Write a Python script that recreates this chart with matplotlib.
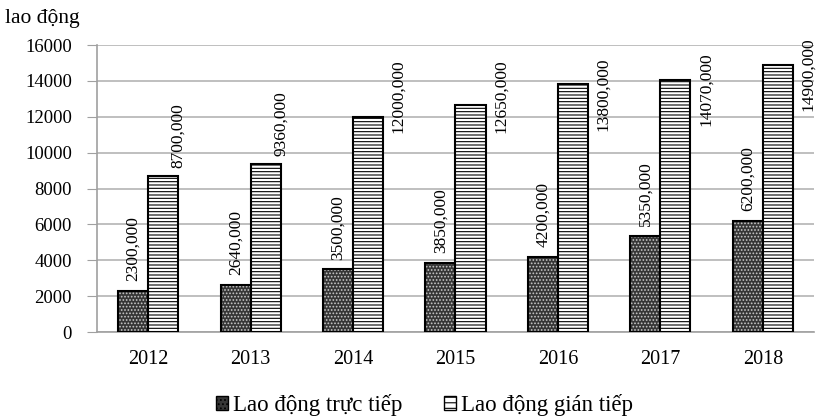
import numpy as np
import matplotlib
matplotlib.use('Agg')
import matplotlib.pyplot as plt
import matplotlib.patches as mpatches

plt.rcParams['font.family'] = ['Liberation Serif', 'DejaVu Serif']
plt.rcParams['hatch.linewidth'] = 0.8

years = ['2012', '2013', '2014', '2015', '2016', '2017', '2018']
truc_tiep = np.array([2300, 2640, 3500, 3850, 4200, 5350, 6200])
gian_tiep = np.array([8700, 9360, 12000, 12650, 13800, 14070, 14900])

x = np.arange(len(years))
w = 0.293
label_span = 4200  # approx. height of a rotated label in data units

fig = plt.figure(figsize=(8.16, 4.18), dpi=100)
ax = fig.add_axes([0.1189, 0.2057, 0.8786, 0.6866])

# direct labour: dark fill with light dots, black border drawn on top
ax.bar(x - w / 2, truc_tiep, w, color='#363636', edgecolor='#c8c8c8',
       hatch='.....', linewidth=0, zorder=2)
ax.bar(x - w / 2, truc_tiep, w, fill=False, edgecolor='black',
       linewidth=1.5, zorder=3)
# indirect labour: white with horizontal lines
ax.bar(x + w / 2, gian_tiep, w, color='white', edgecolor='black',
       hatch='-----', linewidth=1.5, zorder=3)

for xi, v in zip(x, truc_tiep):
    ax.annotate(f'{v},000', (xi - w / 2, v), xytext=(0, 7), textcoords='offset points',
                rotation=90, ha='center', va='bottom', fontsize=12.5)

for xi, v in zip(x, gian_tiep):
    if v + label_span < 16000:
        ax.annotate(f'{v},000', (xi + w, v), xytext=(0, 6), textcoords='offset points',
                    rotation=90, ha='center', va='bottom', fontsize=12.5)
    else:
        top = max(15200, v + 1500)
        ax.annotate(f'{v},000', (xi + w, top), xytext=(11, 0), textcoords='offset points',
                    rotation=90, ha='center', va='top', fontsize=12.5,
                    annotation_clip=False)

ax.set_xlim(-0.5, len(years) - 0.5)
ax.set_ylim(0, 16000)
ax.set_yticks(np.arange(0, 16001, 2000))
ax.set_xticks(x)
ax.set_xticklabels(years)
ax.tick_params(axis='y', labelsize=13.5, length=7, color='#a0a0a0', pad=11)
ax.tick_params(axis='x', labelsize=14.5, length=0, pad=13)
ax.yaxis.grid(True, color='#b4b4b4', linewidth=1.2)
ax.set_axisbelow(True)
for s in ['top', 'right']:
    ax.spines[s].set_visible(False)
for s in ['left', 'bottom']:
    ax.spines[s].set_color('#a0a0a0')
    ax.spines[s].set_linewidth(1.2)

fig.text(0.006, 0.955, 'lao động', fontsize=15.5, ha='left', va='center')

handles = [
    mpatches.Patch(facecolor='#363636', edgecolor='black', hatch='....', linewidth=1),
    mpatches.Patch(facecolor='white', edgecolor='black', hatch='---', linewidth=1),
]
fig.legend(handles, ['Lao động trực tiếp', 'Lao động gián tiếp'], loc='center',
           bbox_to_anchor=(0.52, 0.03), ncol=2, frameon=False, fontsize=16.5,
           handlelength=0.55, handleheight=0.55, handletextpad=0.2, columnspacing=1.8)

fig.savefig('out.png', dpi=100)
